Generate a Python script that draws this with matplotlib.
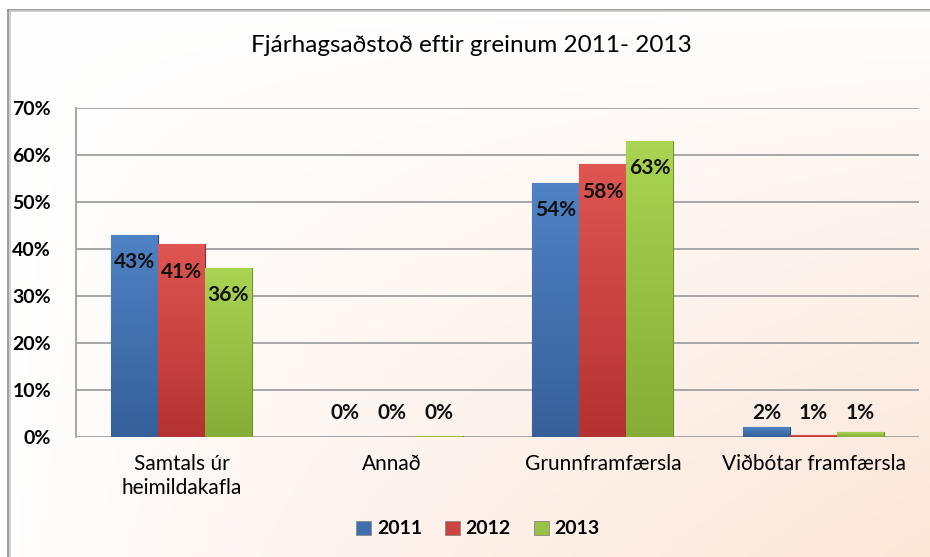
import numpy as np
import matplotlib
matplotlib.use("Agg")
import matplotlib.pyplot as plt
from matplotlib.patches import Patch
from matplotlib.lines import Line2D
from matplotlib.colors import LinearSegmentedColormap, to_rgb

plt.rcParams['font.family'] = ['Lato', 'DejaVu Sans']

# data
categories = ["Samtals úr\nheimildakafla", "Annað", "Grunnframfærsla", "Viðbótar framfærsla"]
years = ["2011", "2012", "2013"]
vals_2011 = [43, 0, 54, 2.1]
vals_2012 = [41, 0, 58, 0.4]
vals_2013 = [36, 0.2, 63, 1.0]
labels_2011 = ["43%", "0%", "54%", "2%"]
labels_2012 = ["41%", "0%", "58%", "1%"]
labels_2013 = ["36%", "0%", "63%", "1%"]
yticks = [0, 10, 20, 30, 40, 50, 60, 70]

series = [vals_2011, vals_2012, vals_2013]
series_labels = [labels_2011, labels_2012, labels_2013]
# (top colour, bottom colour, edge)
colors = [("#4f82c4", "#36609a", "#2c4f80"),
          ("#de5551", "#b53232", "#922828"),
          ("#aad452", "#86ad37", "#6e8f2c")]
legend_colors = ["#3f6fae", "#cc4340", "#98c145"]

fig = plt.figure(figsize=(9.3, 5.57), dpi=100)

# background gradient: white, turning peach towards the bottom-right corner
bg = fig.add_axes([0, 0, 1, 1], zorder=-10)
gx, gy = np.meshgrid(np.linspace(0, 1, 200), np.linspace(0, 1, 120))
t = np.clip(gx * gy, 0, 1) ** 0.8
peach = np.array(to_rgb("#fce6d8"))
img = (1 - t[..., None]) * np.ones(3) + t[..., None] * peach
bg.imshow(img, aspect="auto", extent=[0, 1, 0, 1], origin="upper")
bg.set_axis_off()

# outer chart frame
for off, col in [(0.0, "#8c8c8c"), (0.0025, "#c8c8c8")]:
    fig.add_artist(Line2D([8 / 930 + off, 8 / 930 + off], [0, 1 - 10 / 557 - off],
                          color=col, lw=1.2, transform=fig.transFigure))
    fig.add_artist(Line2D([8 / 930 + off, 1], [1 - 10 / 557 - off, 1 - 10 / 557 - off],
                          color=col, lw=1.2, transform=fig.transFigure))

ax = fig.add_axes([76 / 930, 1 - 437 / 557, 843 / 930, 329 / 557])
ax.patch.set_alpha(0)

x = np.arange(len(categories))
w = 0.223
for i, (vals, labs, (ctop, cbot, cedge)) in enumerate(zip(series, series_labels, colors)):
    pos = x + (i - 1) * w
    bars = ax.bar(pos, vals, w, color=cbot, edgecolor=cedge, linewidth=0.8, zorder=3)
    cmap = LinearSegmentedColormap.from_list("g", [cbot, ctop])
    grad = np.linspace(0, 1, 64).reshape(-1, 1)
    for b in bars:
        if b.get_height() <= 0:
            continue
        x0, y0 = b.get_x(), b.get_y()
        im = ax.imshow(grad, cmap=cmap, origin="lower", aspect="auto", zorder=3.5,
                       extent=[x0, x0 + b.get_width(), y0, y0 + b.get_height()])
        im.set_clip_path(b)
    for p, v, lab in zip(pos, vals, labs):
        ypos = v - 5.8 if v > 8 else 5.2
        ax.text(p, ypos, lab, ha="center", va="center", fontsize=15,
                fontweight="bold", color="#111111", zorder=5)

ax.set_xlim(-0.5, len(categories) - 0.5)
ax.set_ylim(0, 70)
ax.set_yticks(yticks)
ax.set_yticklabels([f"{v}%" for v in yticks], fontsize=14, fontweight="bold")
ax.set_xticks(x)
ax.set_xticklabels(categories, fontsize=15, linespacing=1.3)
ax.tick_params(axis="y", length=0, pad=18)
ax.tick_params(axis="x", length=0, pad=12)
ax.grid(True, axis="y", color="#a6a6a6", linewidth=1.4, zorder=0)
for s in ["top", "right", "bottom"]:
    ax.spines[s].set_visible(False)
ax.spines["left"].set_color("#a6a6a6")
ax.spines["left"].set_linewidth(1.4)

fig.text(471 / 930, 1 - 46 / 557, "Fjárhagsaðstoð eftir greinum 2011- 2013",
         ha="center", va="center", fontsize=17.5)

handles = [Patch(facecolor=c, edgecolor="#888888", linewidth=0.6) for c in legend_colors]
fig.legend(handles, years, loc="center", bbox_to_anchor=(478 / 930, 1 - 529 / 557),
           ncol=3, frameon=False, prop={"size": 14, "weight": "bold"},
           handlelength=0.75, handleheight=0.75, handletextpad=0.3, columnspacing=1.2)

fig.savefig("out.png", dpi=100)
